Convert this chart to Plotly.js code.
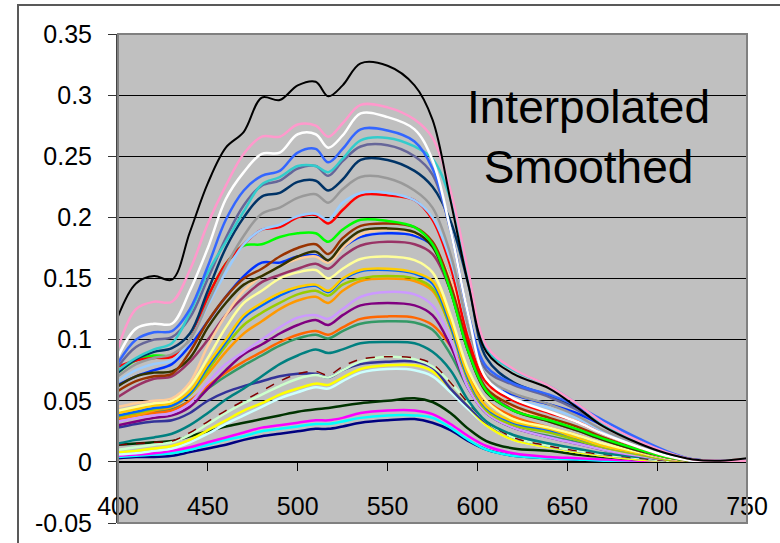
<!DOCTYPE html>
<html>
<head>
<meta charset="utf-8">
<script src="https://cdn.plot.ly/plotly-3.0.1.min.js"></script>
<style>
  html, body { margin: 0; padding: 0; background: #ffffff; }
  #frame { position: absolute; left: 17px; top: 4px; width: 800px; height: 600px; border: 2px solid #595959; box-sizing: border-box; }
  #chart { position: absolute; left: 0; top: 0; width: 780px; height: 543px; }
</style>
</head>
<body>
<div id="frame"></div>
<div id="chart"></div>
<script>
// Wavelength grid (nm)
const wavelengths = [400,410,420,430,440,450,460,470,480,490,500,510,517,525,535,550,565,575,585,595,605,620,640,655,670,690,705,720,735,750];

// Series values
const sNavy2      = [.003,.004,.004,.005,.008,.011,.014,.018,.021,.023,.025,.027,.027,.029,.032,.034,.035,.032,.026,.017,.010,.005,.003,.002,.001,.001,.001,.001,.001,.001];
const sCyan2      = [.004,.005,.006,.007,.010,.014,.018,.021,.025,.027,.029,.031,.031,.033,.036,.038,.038,.036,.028,.018,.010,.005,.003,.002,.001,.001,.001,.001,.001,.001];
const sMagenta    = [.005,.006,.007,.009,.012,.016,.020,.024,.028,.030,.032,.034,.034,.036,.040,.042,.042,.039,.031,.021,.013,.007,.004,.003,.002,.001,.001,.001,.001,.001];
const sDarkGreen  = [.014,.015,.016,.017,.021,.025,.029,.032,.035,.038,.041,.043,.044,.046,.048,.050,.052,.049,.040,.027,.017,.011,.009,.006,.004,.002,.001,.001,.001,.001];
const sLightCyan  = [.006,.007,.009,.011,.016,.023,.031,.038,.045,.052,.057,.061,.060,.066,.073,.076,.075,.070,.057,.043,.030,.018,.012,.008,.005,.002,.001,.001,.001,.001];
const sYellow     = [.008,.009,.011,.013,.018,.026,.034,.042,.048,.055,.060,.064,.063,.069,.076,.079,.079,.074,.060,.045,.030,.018,.012,.008,.005,.002,.001,.001,.001,.001];
const sSlateBlue  = [.028,.031,.033,.034,.040,.050,.057,.062,.066,.070,.072,.072,.069,.075,.080,.082,.082,.077,.060,.045,.032,.020,.013,.009,.006,.003,.001,.001,.001,.001];
const sLightGreen = [.010,.012,.014,.016,.022,.031,.040,.048,.055,.062,.068,.071,.069,.075,.082,.086,.084,.078,.065,.048,.033,.020,.013,.009,.006,.003,.001,.001,.001,.001];
const sDarkRed    = [.014,.015,.016,.017,.024,.033,.042,.050,.058,.066,.072,.074,.071,.078,.084,.086,.085,.080,.065,.048,.033,.020,.013,.009,.006,.003,.001,.001,.001,.001];
const sTeal       = [.015,.018,.020,.023,.030,.040,.051,.060,.070,.080,.087,.092,.089,.092,.097,.098,.097,.090,.075,.050,.033,.022,.015,.011,.007,.004,.002,.001,.001,.001];
const sSeaGreen   = [.036,.038,.041,.043,.050,.060,.070,.079,.087,.095,.101,.104,.101,.107,.113,.115,.114,.108,.088,.060,.040,.028,.021,.016,.010,.005,.002,.001,.001,.001];
const sOrangeRed  = [.035,.038,.040,.042,.050,.062,.073,.082,.090,.098,.104,.107,.104,.110,.117,.119,.118,.112,.095,.070,.050,.037,.028,.022,.014,.007,.002,.001,.001,.001];
const sPurple     = [.030,.033,.036,.038,.045,.060,.075,.088,.096,.105,.112,.116,.112,.120,.128,.130,.128,.120,.095,.060,.040,.028,.020,.015,.010,.005,.002,.001,.001,.001];
const sLilac      = [.033,.036,.038,.040,.048,.065,.080,.090,.100,.110,.118,.120,.117,.125,.135,.139,.137,.128,.100,.060,.040,.028,.020,.015,.010,.005,.002,.001,.001,.001];
const sOrange     = [.036,.038,.042,.045,.055,.072,.090,.105,.115,.125,.132,.135,.130,.140,.148,.150,.148,.140,.110,.070,.045,.032,.025,.019,.013,.007,.002,.001,.001,.001];
const sOliveGreen = [.037,.040,.043,.046,.055,.075,.095,.112,.122,.130,.137,.140,.136,.145,.150,.152,.150,.142,.110,.066,.042,.030,.024,.018,.012,.006,.002,.001,.001,.001];
const sBlue2      = [.038,.041,.044,.046,.056,.078,.098,.118,.128,.136,.142,.144,.139,.149,.156,.157,.154,.146,.112,.068,.044,.032,.026,.020,.013,.007,.003,.001,.001,.001];
const sGold       = [.040,.043,.046,.048,.058,.080,.100,.120,.130,.138,.143,.145,.140,.150,.157,.158,.155,.148,.115,.070,.045,.033,.027,.020,.013,.007,.003,.001,.001,.001];
const sLightYellow= [.042,.045,.048,.050,.062,.085,.110,.130,.140,.150,.155,.157,.150,.158,.166,.168,.165,.155,.120,.075,.050,.035,.028,.022,.015,.008,.003,.001,.001,.001];
const sMauve      = [.053,.062,.068,.070,.082,.100,.120,.135,.147,.153,.158,.162,.158,.168,.177,.180,.178,.170,.140,.090,.058,.043,.033,.026,.018,.009,.003,.001,.001,.001];
const sBlue       = [.063,.070,.075,.080,.095,.115,.135,.152,.163,.163,.168,.169,.164,.175,.184,.187,.185,.177,.150,.100,.065,.055,.047,.040,.030,.018,.008,.002,.001,.001];
const sPeach      = [.045,.048,.050,.052,.065,.095,.120,.140,.152,.160,.166,.168,.163,.175,.186,.190,.187,.178,.150,.100,.065,.045,.035,.028,.019,.009,.003,.001,.001,.001];
const sDarkOlive  = [.062,.070,.073,.074,.085,.110,.130,.145,.152,.160,.168,.172,.165,.178,.189,.191,.188,.176,.140,.090,.057,.042,.033,.026,.018,.009,.004,.001,.001,.001];
const sBrown      = [.058,.066,.070,.072,.090,.115,.135,.150,.158,.168,.175,.178,.170,.183,.193,.195,.192,.180,.145,.095,.060,.046,.036,.029,.020,.010,.004,.001,.001,.001];
const sGreen      = [.073,.083,.087,.087,.100,.135,.162,.177,.178,.184,.187,.187,.180,.190,.198,.197,.192,.178,.140,.090,.058,.042,.034,.027,.019,.010,.004,.001,.001,.001];
const sRed        = [.078,.083,.085,.086,.100,.135,.162,.178,.190,.192,.200,.202,.195,.206,.218,.218,.214,.198,.160,.100,.065,.050,.040,.033,.023,.012,.005,.001,.001,.002];
const sLightBlue  = [.066,.075,.080,.083,.100,.128,.155,.178,.190,.194,.201,.203,.198,.212,.220,.220,.214,.200,.165,.110,.070,.052,.044,.036,.025,.013,.006,.001,.001,.001];
const sGray       = [.070,.080,.085,.088,.100,.130,.160,.185,.203,.208,.216,.219,.212,.223,.233,.232,.222,.208,.170,.110,.070,.056,.047,.038,.026,.014,.006,.001,.001,.001];
const sNavy       = [.073,.084,.090,.093,.105,.140,.175,.200,.217,.220,.229,.230,.222,.231,.247,.247,.238,.225,.197,.145,.085,.065,.054,.044,.031,.017,.008,.002,.001,.001];
const sSlate      = [.078,.094,.100,.102,.118,.150,.183,.210,.226,.230,.240,.242,.234,.246,.258,.259,.250,.235,.190,.120,.075,.063,.053,.043,.030,.016,.007,.002,.001,.001];
const sCyan       = [.075,.085,.092,.097,.122,.155,.180,.205,.227,.233,.242,.242,.237,.248,.263,.265,.258,.248,.215,.152,.092,.075,.062,.048,.031,.016,.007,.001,.001,.001];
const sCornflower = [.081,.100,.106,.107,.125,.160,.198,.222,.234,.238,.253,.256,.245,.256,.272,.271,.262,.240,.190,.120,.078,.064,.055,.046,.034,.019,.009,.002,.001,.001];
const sWhite      = [.086,.109,.113,.113,.140,.175,.215,.237,.252,.253,.268,.268,.257,.267,.285,.282,.272,.247,.190,.120,.068,.052,.041,.033,.023,.012,.005,.001,.001,.001];
const sPink       = [.093,.125,.131,.131,.157,.195,.226,.252,.266,.266,.276,.275,.266,.277,.292,.290,.280,.265,.222,.155,.095,.076,.062,.048,.032,.017,.008,.002,.001,.001];
const sBlack      = [.119,.146,.152,.149,.188,.228,.257,.270,.298,.296,.308,.311,.299,.308,.326,.324,.308,.280,.214,.145,.090,.072,.060,.045,.029,.015,.007,.002,.001,.003];

const xTickVals = [400,450,500,550,600,650,700,750];
const xTickText = ['400','450','500','550','600','650','700','750'];
const yTickVals = [-0.05,0,0.05,0.1,0.15,0.2,0.25,0.3,0.35];
const yTickText = ['-0.05','0','0.05','0.1','0.15','0.2','0.25','0.3','0.35'];
const noteText = 'Interpolated<br>Smoothed';

const seriesList = [
  [sNavy2,'#000080'],[sCyan2,'#00ffff'],[sMagenta,'#ff00ff'],[sDarkGreen,'#003300'],
  [sLightCyan,'#ccffff'],[sYellow,'#ffff00'],[sSlateBlue,'#333399'],[sLightGreen,'#ccffcc'],
  [sDarkRed,'#800000','dash'],[sTeal,'#008080'],[sSeaGreen,'#339966'],[sOrangeRed,'#ff6600'],
  [sPurple,'#800080'],[sLilac,'#cc99ff'],[sOrange,'#ff9900'],[sOliveGreen,'#99cc00'],
  [sBlue2,'#0066ff'],[sGold,'#ffcc00'],[sLightYellow,'#ffff99'],[sMauve,'#993366'],
  [sBlue,'#0033ff'],[sPeach,'#ffcc99'],[sDarkOlive,'#333300'],[sBrown,'#993300'],
  [sGreen,'#00ff00'],[sRed,'#ff0000'],[sLightBlue,'#99ccff'],[sGray,'#999999'],
  [sNavy,'#003366'],[sSlate,'#666699'],[sCyan,'#33cccc'],[sCornflower,'#3366ff'],
  [sWhite,'#ffffff'],[sPink,'#ff99cc'],[sBlack,'#000000']
];

const traces = seriesList.map(function(s){
  let w = 2.5;
  if (s[1] === '#000000') w = 2;
  if (s[2] === 'dash') w = 1.5;
  return {
    x: wavelengths, y: s[0], type: 'scatter', mode: 'lines',
    line: {color: s[1], width: w, shape: 'spline', smoothing: 1, dash: s[2] || 'solid'},
    hoverinfo: 'skip', showlegend: false
  };
});

const font = 'Liberation Sans, Arial, sans-serif';
const layout = {
  width: 780, height: 543,
  margin: {l: 118, r: 33, t: 34, b: 20, pad: 0},
  paper_bgcolor: 'rgba(0,0,0,0)',
  plot_bgcolor: '#c0c0c0',
  showlegend: false,
  font: {family: font, color: '#000000'},
  xaxis: {
    range: [400, 750], anchor: 'free', position: 0.125,
    tickvals: xTickVals, ticktext: xTickText,
    ticks: 'outside', ticklen: 8, tickcolor: '#000000', tickwidth: 1,
    showline: true, linecolor: '#000000', linewidth: 1.5,
    showgrid: false, zeroline: false,
    tickfont: {family: font, size: 25, color: '#000000'},
    ticklabelstandoff: 14
  },
  yaxis: {
    range: [-0.05, 0.35], domain: [0, 1],
    tickvals: yTickVals, ticktext: yTickText,
    ticks: 'outside', ticklen: 8, tickcolor: '#333333', tickwidth: 1,
    showline: true, linecolor: '#444444', linewidth: 2,
    showgrid: true, gridcolor: '#000000', gridwidth: 1,
    zeroline: false,
    tickfont: {family: font, size: 25, color: '#000000'},
    ticklabelstandoff: 11
  },
  shapes: [
    {type: 'rect', xref: 'paper', yref: 'paper', x0: 0, x1: 1, y0: 0, y1: 1,
     line: {color: '#808080', width: 2}, layer: 'above'}
  ],
  annotations: [
    {text: noteText, x: 662, y: 0.2655, xref: 'x', yref: 'y', showarrow: false,
     font: {family: font, size: 46, color: '#000000'}, align: 'center'}
  ]
};

Plotly.newPlot('chart', traces, layout, {displayModeBar: false, staticPlot: true});
</script>
</body>
</html>
